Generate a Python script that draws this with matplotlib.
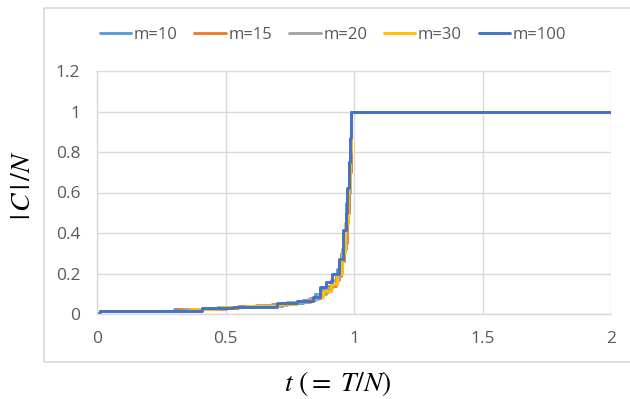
import matplotlib
matplotlib.use("Agg")
import matplotlib.pyplot as plt
from matplotlib.patches import Rectangle

# ---- data ----
labels = ["m=10", "m=15", "m=20", "m=30", "m=100"]
colors = ["#5B9BD5", "#ED7D31", "#A5A5A5", "#FFC000", "#4472C4"]

t_m10 = [0, 0.01, 0.30, 0.47, 0.60, 0.72, 0.80, 0.85, 0.88, 0.91, 0.935, 0.95, 0.96, 0.97, 0.98, 0.99, 2.0]
y_m10 = [0.005, 0.015, 0.025, 0.035, 0.04, 0.055, 0.07, 0.10, 0.13, 0.17, 0.22, 0.30, 0.40, 0.55, 0.75, 1.0, 1.0]

t_m15 = [0, 0.01, 0.32, 0.45, 0.55, 0.68, 0.76, 0.83, 0.87, 0.90, 0.93, 0.95, 0.962, 0.972, 0.98, 0.99, 2.0]
y_m15 = [0.005, 0.015, 0.025, 0.03, 0.04, 0.05, 0.06, 0.08, 0.11, 0.14, 0.19, 0.26, 0.35, 0.50, 0.70, 1.0, 1.0]

t_m20 = [0, 0.01, 0.34, 0.50, 0.62, 0.74, 0.82, 0.86, 0.89, 0.915, 0.94, 0.955, 0.967, 0.976, 0.984, 0.99, 2.0]
y_m20 = [0.005, 0.015, 0.025, 0.035, 0.045, 0.06, 0.075, 0.10, 0.13, 0.17, 0.24, 0.32, 0.45, 0.60, 0.80, 1.0, 1.0]

t_m30 = [0, 0.01, 0.36, 0.48, 0.58, 0.71, 0.78, 0.84, 0.88, 0.91, 0.935, 0.955, 0.965, 0.975, 0.983, 0.99, 2.0]
y_m30 = [0.005, 0.015, 0.025, 0.035, 0.04, 0.05, 0.065, 0.085, 0.115, 0.15, 0.20, 0.30, 0.45, 0.62, 0.80, 1.0, 1.0]

t_m100 = [0, 0.01, 0.41, 0.53, 0.70, 0.78, 0.84, 0.868, 0.89, 0.913, 0.943, 0.956, 0.968, 0.974, 0.98, 0.985, 0.99, 2.0]
y_m100 = [0.005, 0.016, 0.03, 0.036, 0.053, 0.066, 0.085, 0.135, 0.16, 0.20, 0.27, 0.415, 0.50, 0.62, 0.75, 0.87, 1.0, 1.0]

series_t = [t_m10, t_m15, t_m20, t_m30, t_m100]
series_y = [y_m10, y_m15, y_m20, y_m30, y_m100]

xticks = [0, 0.5, 1, 1.5, 2]
xticklabels = ["0", "0.5", "1", "1.5", "2"]
yticks = [0, 0.2, 0.4, 0.6, 0.8, 1.0, 1.2]
yticklabels = ["0", "0.2", "0.4", "0.6", "0.8", "1", "1.2"]

# ---- figure ----
plt.rcParams["mathtext.fontset"] = "stix"
W, H = 630, 399
fig = plt.figure(figsize=(W / 100, H / 100), dpi=100)

# chart area border
fig.patches.append(Rectangle((43.5 / W, 1 - 362 / H), 1.2, (362 - 7.5) / H,
                             transform=fig.transFigure, fill=False,
                             edgecolor="#D9D9D9", linewidth=1.2))

ax = fig.add_axes([97 / W, 1 - 314 / H, (611 - 97) / W, (314 - 71) / H])

for t, y, c, lab in zip(series_t, series_y, colors, labels):
    ax.plot(t, y, drawstyle="steps-post", color=c, linewidth=2.1, label=lab,
            solid_joinstyle="round", solid_capstyle="round")

ax.set_xlim(0, 2)
ax.set_ylim(0, 1.2)
ax.set_xticks(xticks)
ax.set_xticklabels(xticklabels)
ax.set_yticks(yticks)
ax.set_yticklabels(yticklabels)
ax.grid(True, color="#D9D9D9", linewidth=1)
ax.set_axisbelow(True)
for s in ["top", "right"]:
    ax.spines[s].set_visible(False)
for s in ["left", "bottom"]:
    ax.spines[s].set_color("#D9D9D9")
    ax.spines[s].set_linewidth(1)
ax.tick_params(length=0, colors="#595959", labelsize=12.5, pad=12)
for lbl in ax.get_xticklabels() + ax.get_yticklabels():
    lbl.set_fontfamily("Open Sans")

fig.text(22 / W, 1 - 185 / H, r"$|\,C\,|\,/N$", rotation=90, ha="center", va="center",
         fontsize=20, color="#000000")
fig.text(338 / W, 1 - 383 / H, r"$t\ ({=}\;T/N)$", ha="center", va="center",
         fontsize=20, color="#000000")

leg = ax.legend(loc="center", bbox_to_anchor=(333 / W, 1 - 35 / H),
                bbox_transform=fig.transFigure, ncol=5, frameon=False,
                handlelength=1.9, handletextpad=0.15, columnspacing=1.0,
                prop={"family": "Open Sans", "size": 12})
for txt in leg.get_texts():
    txt.set_color("#595959")

fig.savefig("out.png", dpi=100)
